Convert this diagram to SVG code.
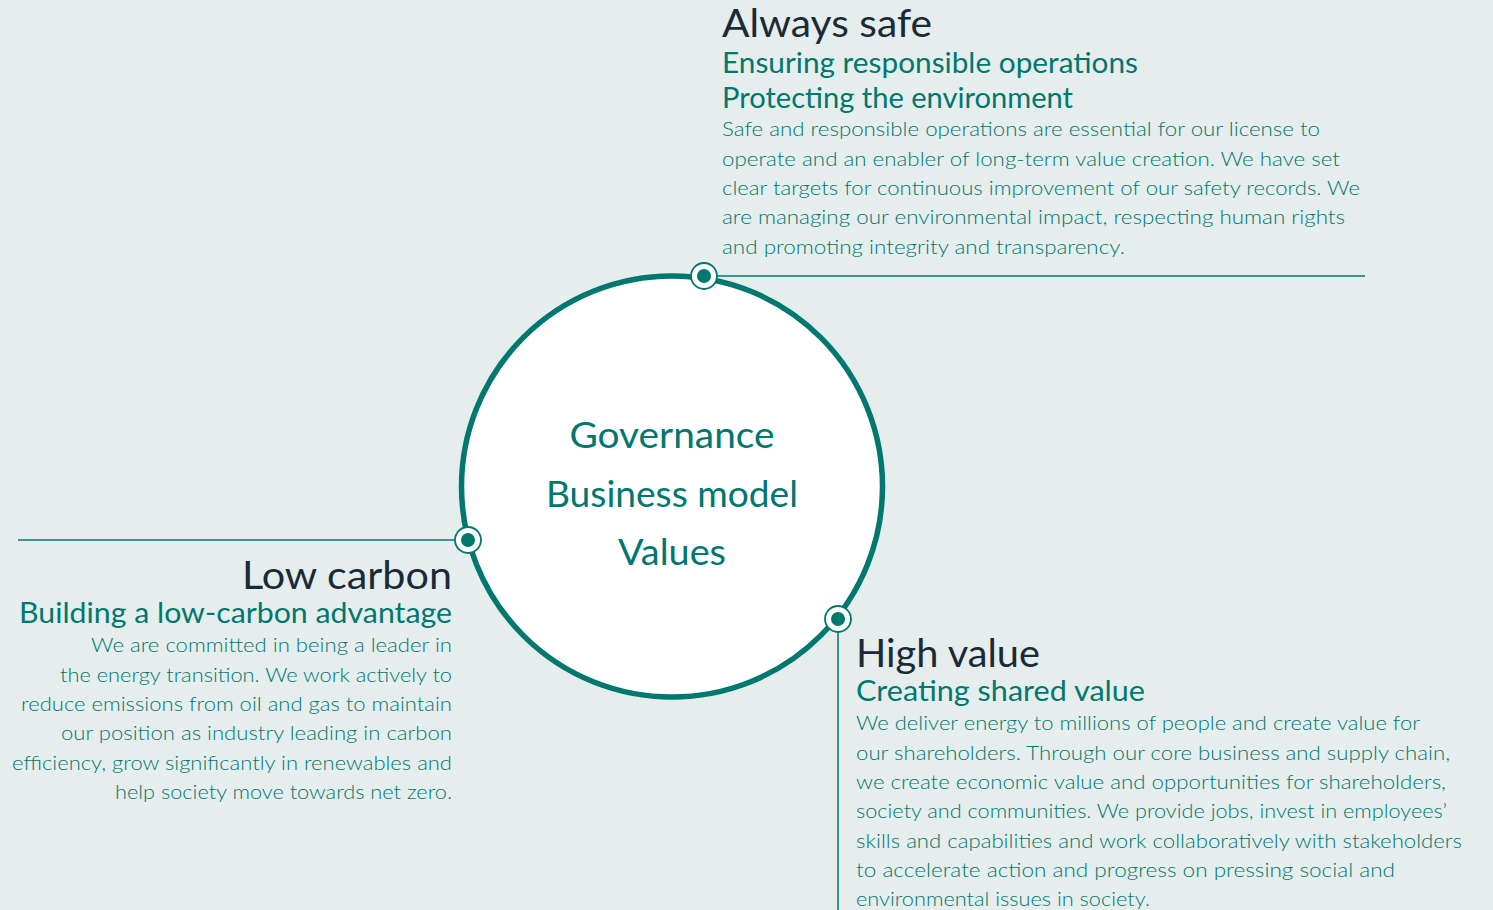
<svg xmlns="http://www.w3.org/2000/svg" width="1493" height="910" viewBox="0 0 1493 910">
  <defs>
    <style>
      .bg { fill: #e5eeed; }
      .ring { fill: #ffffff; stroke: #00776f; stroke-width: 5.5; }
      .link { stroke: #00776f; stroke-width: 1.5; fill: none; }
      .pin-outer { fill: #ffffff; stroke: #00776f; stroke-width: 1.8; }
      .pin-inner { fill: #00776f; }
      text { font-family: Lato, "Noto Sans", sans-serif; }
      .title { fill: #1b2a36; font-size: 39px; }
      .sub { fill: #00776f; font-size: 28px; }
      .body { fill: #00776f; font-size: 19.5px; font-weight: 300; }
      .core { fill: #00776f; font-size: 37px; text-anchor: middle; }
      .end { text-anchor: end; }
    </style>
  </defs>

  <rect class="bg" x="0" y="0" width="1493" height="910"/>

  <!-- connectors -->
  <g id="connectors">
    <line class="link" x1="704" y1="276" x2="1365" y2="276"/>
    <line class="link" x1="18" y1="540" x2="468" y2="540"/>
    <line class="link" x1="838" y1="619" x2="838" y2="910"/>
  </g>

  <!-- central circle -->
  <g id="core">
    <circle class="ring" cx="672" cy="486.5" r="210.5"/>
    <text class="core" x="672" y="448" textLength="205" lengthAdjust="spacingAndGlyphs">Governance</text>
    <text class="core" x="672" y="507" textLength="252" lengthAdjust="spacingAndGlyphs">Business model</text>
    <text class="core" x="672" y="565" textLength="108" lengthAdjust="spacingAndGlyphs">Values</text>
  </g>

  <!-- pins on the ring -->
  <g id="pins">
    <circle class="pin-outer" cx="704" cy="276" r="13"/>
    <circle class="pin-inner" cx="704" cy="276" r="7"/>
    <circle class="pin-outer" cx="468" cy="540" r="13"/>
    <circle class="pin-inner" cx="468" cy="540" r="7"/>
    <circle class="pin-outer" cx="838" cy="619" r="13"/>
    <circle class="pin-inner" cx="838" cy="619" r="7"/>
  </g>

  <g id="always-safe">
    <text class="title" x="722" y="37" textLength="210" lengthAdjust="spacingAndGlyphs">Always safe</text>
    <text class="sub" x="722" y="73" textLength="416" lengthAdjust="spacingAndGlyphs">Ensuring responsible operations</text>
    <text class="sub" x="722" y="108" textLength="351" lengthAdjust="spacingAndGlyphs">Protecting the environment</text>
    <text class="body" x="722" y="136" textLength="598" lengthAdjust="spacingAndGlyphs">Safe and responsible operations are essential for our license to</text>
    <text class="body" x="722" y="166" textLength="618" lengthAdjust="spacingAndGlyphs">operate and an enabler of long-term value creation. We have set</text>
    <text class="body" x="722" y="195" textLength="638" lengthAdjust="spacingAndGlyphs">clear targets for continuous improvement of our safety records. We</text>
    <text class="body" x="722" y="224" textLength="623" lengthAdjust="spacingAndGlyphs">are managing our environmental impact, respecting human rights</text>
    <text class="body" x="722" y="254" textLength="403" lengthAdjust="spacingAndGlyphs">and promoting integrity and transparency.</text>
  </g>

  <g id="low-carbon">
    <text class="title end" x="452" y="589" textLength="210" lengthAdjust="spacingAndGlyphs">Low carbon</text>
    <text class="sub end" x="452" y="623" textLength="433" lengthAdjust="spacingAndGlyphs">Building a low-carbon advantage</text>
    <text class="body end" x="452" y="652" textLength="361" lengthAdjust="spacingAndGlyphs">We are committed in being a leader in</text>
    <text class="body end" x="452" y="682" textLength="392" lengthAdjust="spacingAndGlyphs">the energy transition. We work actively to</text>
    <text class="body end" x="452" y="711" textLength="431" lengthAdjust="spacingAndGlyphs">reduce emissions from oil and gas to maintain</text>
    <text class="body end" x="452" y="740" textLength="391" lengthAdjust="spacingAndGlyphs">our position as industry leading in carbon</text>
    <text class="body end" x="452" y="770" textLength="440" lengthAdjust="spacingAndGlyphs">efficiency, grow significantly in renewables and</text>
    <text class="body end" x="452" y="799" textLength="337" lengthAdjust="spacingAndGlyphs">help society move towards net zero.</text>
  </g>

  <g id="high-value">
    <text class="title" x="856" y="667" textLength="184" lengthAdjust="spacingAndGlyphs">High value</text>
    <text class="sub" x="856" y="701" textLength="289" lengthAdjust="spacingAndGlyphs">Creating shared value</text>
    <text class="body" x="856" y="730" textLength="564" lengthAdjust="spacingAndGlyphs">We deliver energy to millions of people and create value for</text>
    <text class="body" x="856" y="760" textLength="594" lengthAdjust="spacingAndGlyphs">our shareholders. Through our core business and supply chain,</text>
    <text class="body" x="856" y="789" textLength="590" lengthAdjust="spacingAndGlyphs">we create economic value and opportunities for shareholders,</text>
    <text class="body" x="856" y="818" textLength="591" lengthAdjust="spacingAndGlyphs">society and communities. We provide jobs, invest in employees’</text>
    <text class="body" x="856" y="848" textLength="606" lengthAdjust="spacingAndGlyphs">skills and capabilities and work collaboratively with stakeholders</text>
    <text class="body" x="856" y="877" textLength="539" lengthAdjust="spacingAndGlyphs">to accelerate action and progress on pressing social and</text>
    <text class="body" x="856" y="906" textLength="294" lengthAdjust="spacingAndGlyphs">environmental issues in society.</text>
  </g>
</svg>
